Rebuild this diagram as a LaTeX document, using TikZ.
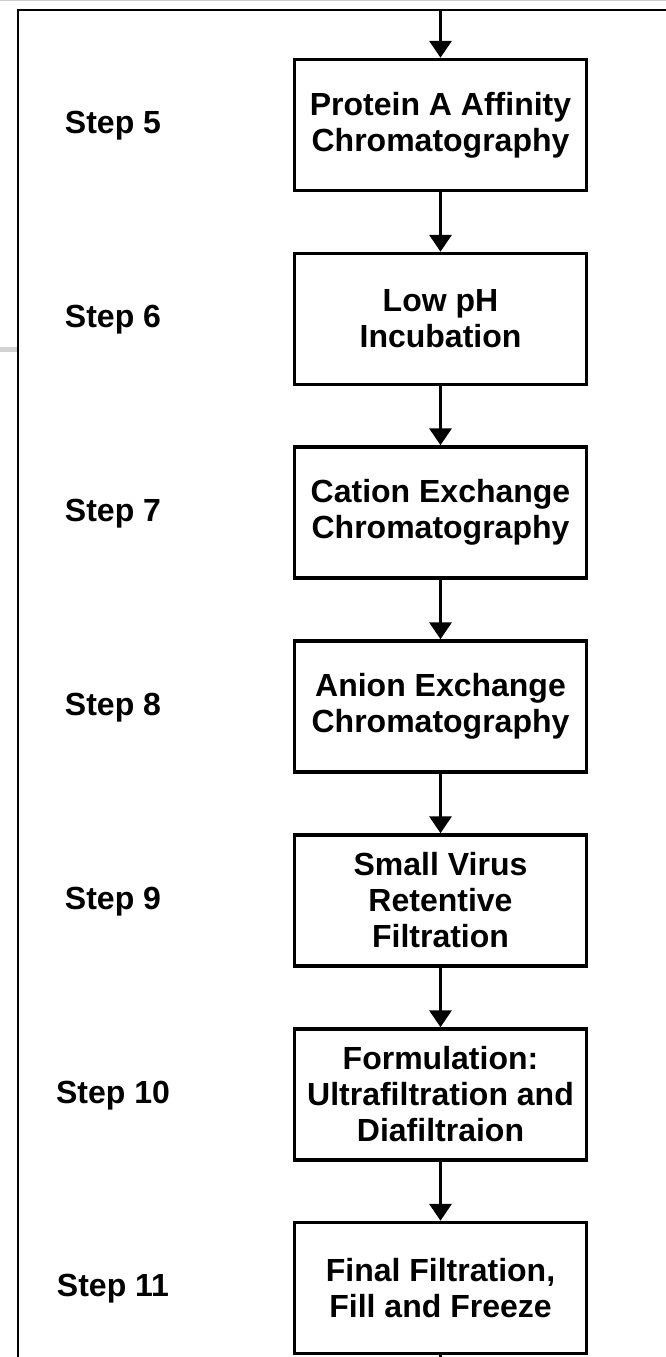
\documentclass[tikz,border=0pt]{standalone}
\usepackage{fontspec}
\setmainfont{Liberation Sans}
\usetikzlibrary{arrows.meta}
\begin{document}
\begin{tikzpicture}[x=1pt,y=-1pt,
  stepbox/.style={draw,line width=3.5pt,minimum width=292pt,minimum height=131pt,align=center,inner sep=0pt,
    font=\fontsize{32}{36}\selectfont\bfseries},
  steplabel/.style={font=\fontsize{32}{36}\selectfont\bfseries},
  flow/.style={line width=3.5pt,-{Triangle[length=17pt,width=22pt]}}]
  \useasboundingbox (0,0) rectangle (666,1357);
  % frame
  \draw[gray!40,line width=1pt] (0,0.5) -- (666,0.5);
  \draw[line width=2pt] (666,10) -- (18,10) -- (18,1357);
  \fill[gray!35] (0,347) rectangle (17,352);
  % process boxes
  \node[stepbox] (prota) at (440.5,125) {Protein A Affinity\\Chromatography};
  \node[stepbox] (lowph) at (440.5,319) {Low pH\\Incubation};
  \node[stepbox] (cex) at (440.5,512.5) {Cation Exchange\\Chromatography};
  \node[stepbox] (aex) at (440.5,706.5) {Anion Exchange\\Chromatography};
  \node[stepbox] (svrf) at (440.5,900.5) {Small Virus\\Retentive\\Filtration};
  \node[stepbox] (ufdf) at (440.5,1094.5) {Formulation:\\Ultrafiltration and\\Diafiltraion};
  \node[stepbox] (fill) at (440.5,1288) {Final Filtration,\\Fill and Freeze};
  % step labels
  \node[steplabel] (s5) at (113,126) {Step 5};
  \node[steplabel] (s6) at (113,320) {Step 6};
  \node[steplabel] (s7) at (113,513.5) {Step 7};
  \node[steplabel] (s8) at (113,707.5) {Step 8};
  \node[steplabel] (s9) at (113,901.5) {Step 9};
  \node[steplabel] (s10) at (113,1095.5) {Step 10};
  \node[steplabel] (s11) at (113,1289) {Step 11};
  % arrows
  \coordinate (in) at (440.5,10);
  \coordinate (out) at (440.5,1357);
  \draw[flow] (in) -- (prota);
  \draw[flow] (prota) -- (lowph);
  \draw[flow] (lowph) -- (cex);
  \draw[flow] (cex) -- (aex);
  \draw[flow] (aex) -- (svrf);
  \draw[flow] (svrf) -- (ufdf);
  \draw[flow] (ufdf) -- (fill);
  \draw[line width=3.5pt] (fill) -- (out);
\end{tikzpicture}
\end{document}
